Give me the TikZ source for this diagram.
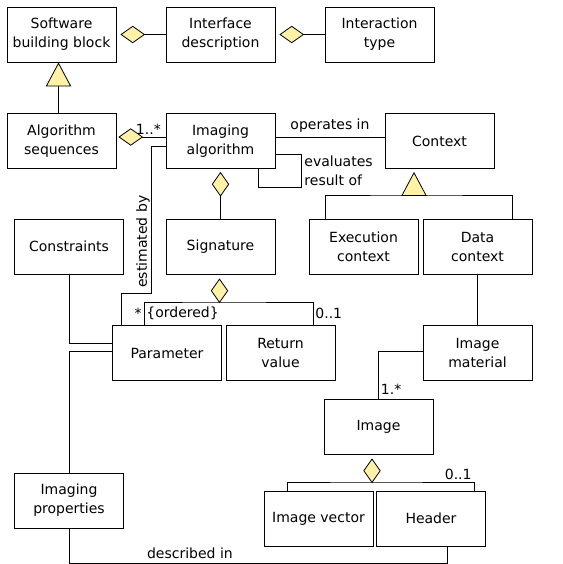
\documentclass[tikz,border=0pt]{standalone}
\usepackage{fontspec}
\setsansfont{DejaVu Sans}
\usepackage{tikz}
\usetikzlibrary{arrows.meta,positioning}
\tikzset{every picture/.style={/utils/exec={\sffamily\fontsize{10.5}{14.25}\selectfont}}}
\definecolor{umlyellow}{RGB}{255,241,166}

\begin{document}
\begin{tikzpicture}[x=0.75pt, y=-0.75pt, node distance=119.25pt, line width=0.6pt]
  \tikzstyle{block} = [rectangle, draw=black, minimum width=81.75pt, minimum height=41.25pt, inner sep=2pt, align=center]
  \tikzstyle{aggr} = [-{Diamond[fill=umlyellow, length=18.5pt, width=13pt]}, shorten >=3pt]
  \tikzstyle{gen} = [-{Triangle[fill=umlyellow, length=18pt, width=19pt]}]
  \tikzstyle{mult} = [inner sep=1.5pt]

  \useasboundingbox (0,0) rectangle (562,564);

  % classes
  \node (sbb) [block] at (61.5,34.5) {Software\\building block};
  \node (ifdesc) [block, right of=sbb] {Interface\\description};
  \node (itype) [block, right of=ifdesc] {Interaction\\type};
  \node (algseq) [block] at (61.5,141) {Algorithm\\sequences};
  \node (imgalg) [block, right of=algseq] {Imaging\\algorithm};
  \node (context) [block] at (439.5,141) {Context};
  \node (constr) [block] at (69,246.5) {Constraints};
  \node (sig) [block] at (220.5,246.5) {Signature};
  \node (exectx) [block] at (363.5,246.5) {Execution\\context};
  \node (datactx) [block] at (477.5,246.5) {Data\\context};
  \node (param) [block] at (167,353) {Parameter};
  \node (retval) [block] at (280.5,353) {Return\\value};
  \node (imgmat) [block] at (477.5,353) {Image\\material};
  \node (image) [block] at (378.5,426.5) {Image};
  \node (imgprops) [block] at (69,500.5) {Imaging\\properties};
  \node (imgvec) [block] at (318.5,518.5) {Image vector};
  \node (header) [block] at (431,518.5) {Header};

  % where the shared branches meet
  \coordinate (ctxbar) at (414,195);
  \coordinate (sigbar) at (219.5,302);
  \coordinate (imgbar) at (372,482);

  \draw [aggr] (ifdesc) -- (sbb);
  \draw [aggr] (itype) -- (ifdesc);
  \draw [gen] ([xshift=-2.25pt]algseq.north) -- ([xshift=-2.25pt]sbb.south);
  \draw [aggr, shorten >=1.5pt] ([yshift=3pt]imgalg.west) -- node[mult, pos=0.35, above] {1..*} ([yshift=3pt]algseq.east);
  \draw ([yshift=2.5pt]imgalg.east) -- node[above] {operates in} ([yshift=2.5pt]context.west);
  % self association round the lower right corner
  \draw ([yshift=-9.75pt]imgalg.east) -- ++(26,0) -- ++(0,33) node[midway, right, align=left, inner sep=2pt] {evaluates\\result of} -| ([xshift=28.5pt]imgalg.south);
  \draw [aggr, shorten >=2.25pt] (sig) -- (imgalg);
  \draw ([yshift=-3.75pt]imgalg.west) -- ++(-14,0) -- ++(0,147) node[pos=0.65, rotate=90, above, inner sep=1pt] {estimated by} -| ([xshift=-34.5pt]param.north);

  % context specialisations
  \draw ([xshift=-28.875pt]exectx.north) |- (ctxbar) -| ([xshift=25.875pt]datactx.north);
  \draw [gen, shorten >=2.25pt] (ctxbar) -- (ctxbar |- context.south);

  % signature parts
  \draw [aggr] (sigbar) -- (sigbar |- sig.south);
  \draw ([xshift=-17.25pt]param.north) |- node[mult, pos=0.25, left] {*} node[mult, pos=0.25, right] {\{ordered\}} (sigbar) -| node[mult, pos=0.75, right] {0..1} ([xshift=24.375pt]retval.north);
  \draw (constr.south) |- ([yshift=7.5pt]param.west);
  \draw ([yshift=1.5pt]param.west) -| (imgprops.north);

  % image data
  \draw (datactx) -- (imgmat);
  \draw ([yshift=1.5pt]imgmat.west) -| node[mult, pos=0.9, right] {1.*} (image.north);
  \draw ([xshift=-23.625pt]imgvec.north) |- (imgbar) -| node[mult, pos=0.5, above left] {0..1} ([xshift=32.25pt]header.north);
  \draw [aggr] (imgbar) -- (imgbar |- image.south);
  \draw (imgprops.south) -- ++(0,35) -| node[pos=0.16, above] {described in} ([xshift=12pt]header.south);
\end{tikzpicture}
\end{document}
